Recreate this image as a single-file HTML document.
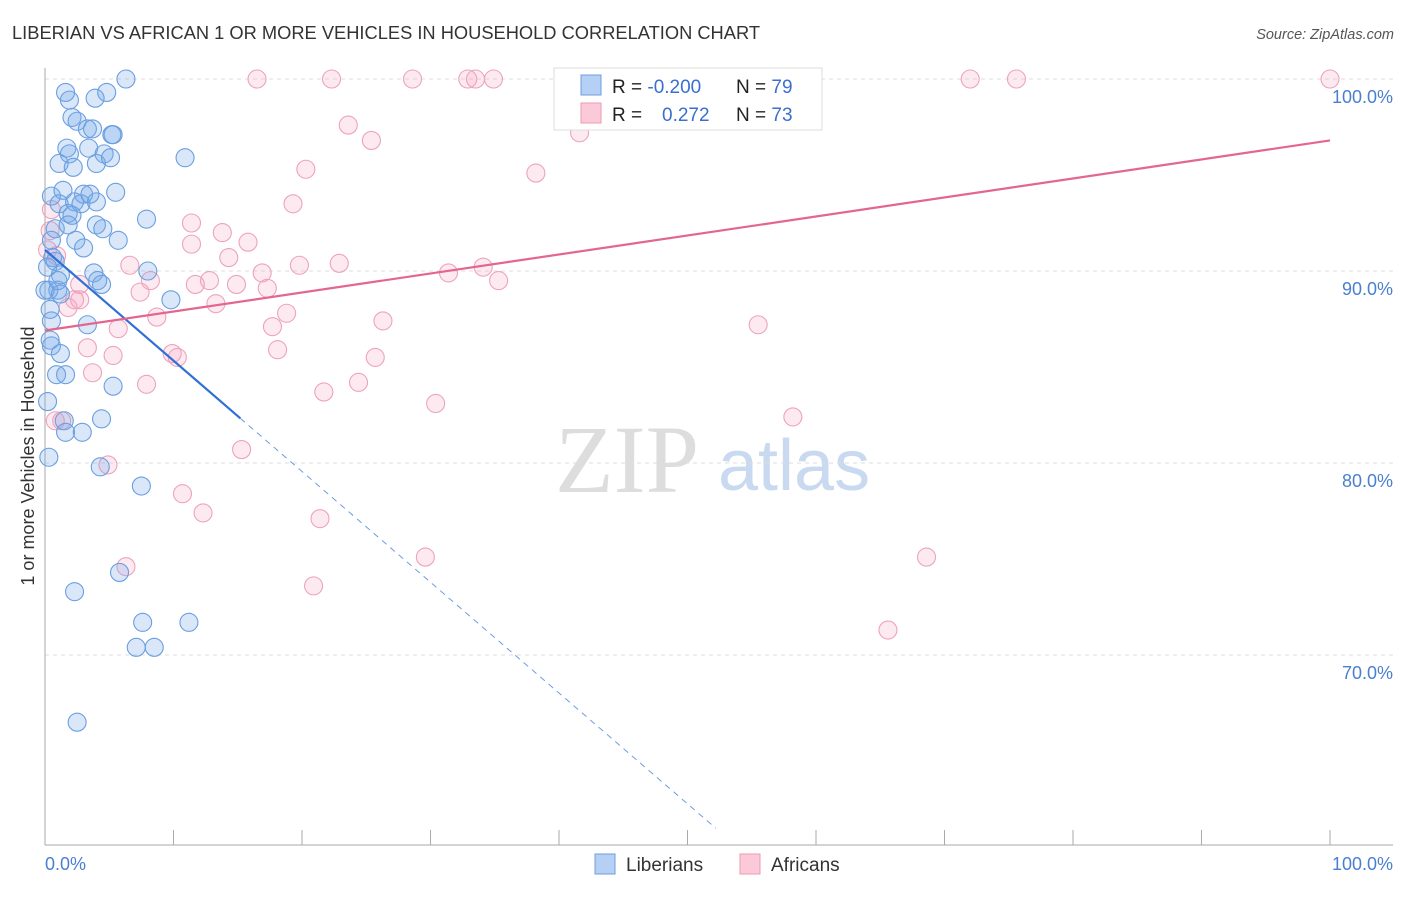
<!DOCTYPE html>
<html><head><meta charset="utf-8"><style>
body{margin:0;background:#fff;font-family:"Liberation Sans",sans-serif}
</style></head><body>
<svg id="c" width="1406" height="892" xmlns="http://www.w3.org/2000/svg" font-family="Liberation Sans, sans-serif">
<text x="12" y="39" font-size="18.3" fill="#333">LIBERIAN VS AFRICAN 1 OR MORE VEHICLES IN HOUSEHOLD CORRELATION CHART</text>
<text x="1394" y="39" font-size="14.5" fill="#555" text-anchor="end" font-style="italic">Source: ZipAtlas.com</text>
<g>
<text x="555" y="492" font-size="96" fill="#ddd" font-family="Liberation Serif, serif">ZIP</text>
<text x="718" y="490" font-size="72" fill="#c8d9f0">atlas</text>
</g>
<g id="grid"></g>
<g id="marks"></g>
<g id="lines"></g>
<text transform="translate(34,456) rotate(-90)" font-size="18" fill="#333" text-anchor="middle">1 or more Vehicles in Household</text>
<g>
<rect x="554" y="68" width="268" height="62" fill="#fff" stroke="#ddd"/>
<rect x="581" y="75" width="20" height="20" fill="#b6d0f5" stroke="#6d9de0"/>
<rect x="581" y="103" width="20" height="20" fill="#fbc9d8" stroke="#eb9ab4"/>
<text x="612" y="93" font-size="19" fill="#222">R = <tspan fill="#3a6fd0">-0.200</tspan></text>
<text x="736" y="93" font-size="19" fill="#222">N = <tspan fill="#3a6fd0">79</tspan></text>
<text x="612" y="121" font-size="19" fill="#222">R = <tspan fill="#3a6fd0" x="662">0.272</tspan></text>
<text x="736" y="121" font-size="19" fill="#222">N = <tspan fill="#3a6fd0">73</tspan></text>
</g>
<g>
<rect x="595" y="854" width="20" height="20" fill="#b6d0f5" stroke="#6d9de0"/>
<text x="626" y="871" font-size="19" fill="#333">Liberians</text>
<rect x="740" y="854" width="20" height="20" fill="#fbc9d8" stroke="#eb9ab4"/>
<text x="771" y="871" font-size="19" fill="#333">Africans</text>
</g>
</svg>
<script>
const xTicks=[0,10,20,30,40,50,60,70,80,90,100];
const yTicks=[70,80,90,100];
const yTickLabels=["70.0%","80.0%","90.0%","100.0%"];
const blueX=[6.3,1.6,4.8,1.9,3.9,2.1,2.5,3.3,3.7,5.2,5.3,1.7,3.4,1.9,4.6,1.1,2.2,4.0,10.9,0.5,1.4,3.0,5.5,1.1,2.3,2.8,4.0,1.8,2.1,7.9,0.8,4.0,4.5,0.5,2.4,3.0,5.7,0.6,0.8,3.8,4.4,4.1,8.0,0.3,1.0,1.2,9.8,0.5,3.3,0.4,0.5,1.2,0.9,1.6,5.3,0.2,1.5,1.6,2.9,4.4,0.3,4.3,7.5,5.8,2.3,7.6,11.2,7.1,8.5,2.5,0.4,0.2,1.2,0,1.0,1.8,3.5,5.1];
const blueY=[100,99.3,99.3,98.9,99.0,98.0,97.8,97.4,97.4,97.1,97.1,96.4,96.4,96.1,96.1,95.6,95.4,95.6,95.9,93.9,94.2,94.0,94.1,93.5,93.6,93.5,93.6,93.0,92.9,92.7,92.2,92.4,92.2,91.6,91.6,91.2,91.6,90.7,90.5,89.9,89.3,89.5,90.0,89.0,89.0,88.8,88.5,87.4,87.2,86.4,86.1,85.7,84.6,84.6,84.0,83.2,82.2,81.6,81.6,82.3,80.3,79.8,78.8,74.3,73.3,71.7,71.7,70.4,70.4,66.5,88.0,90.2,89.8,89.0,89.5,92.4,94.0,95.9];
const pinkX=[16.5,22.3,28.6,32.9,33.5,34.9,52.4,59.1,72.0,75.6,100,41.6,23.6,25.4,38.2,20.3,19.3,11.4,13.8,15.8,11.4,6.6,14.3,16.9,19.8,22.9,31.4,34.1,35.3,8.2,11.7,12.8,14.9,17.3,7.4,13.3,18.8,8.7,17.7,26.3,55.5,1.8,2.7,5.7,3.3,9.9,10.3,5.3,18.1,25.7,3.7,7.9,21.7,24.4,30.4,58.2,1.3,15.3,4.9,10.7,12.3,21.4,6.3,29.6,68.6,20.9,65.6,0.5,0.2,0.8,0.9,2.3,2.7,0.4];
const pinkY=[100,100,100,100,100,100,100,100,100,100,100,97.2,97.6,96.8,95.1,95.3,93.5,92.5,92.0,91.5,91.4,90.3,90.7,89.9,90.3,90.4,89.9,90.2,89.5,89.5,89.3,89.5,89.3,89.1,88.9,88.3,87.8,87.6,87.1,87.4,87.2,88.1,88.5,87.0,86.0,85.7,85.5,85.6,85.9,85.5,84.7,84.1,83.7,84.2,83.1,82.4,82.2,80.7,79.9,78.4,77.4,77.1,74.6,75.1,75.1,73.6,71.3,93.2,91.1,82.2,90.8,88.5,89.3,92.1];
const blueTrend=[91.1,-0.577,15.2,52.2];
const pinkTrend=[86.9,0.099];
const NS="http://www.w3.org/2000/svg";
const X=v=>45+v*12.85, Y=v=>79+(100-v)*19.2;
function mk(t,a,p){const e=document.createElementNS(NS,t);for(const k in a)e.setAttribute(k,a[k]);p.appendChild(e);return e;}
const g=document.getElementById('grid');
yTicks.forEach((t,i)=>{
 const l=mk('line',{x1:45,x2:1393,y1:Y(t),y2:Y(t),stroke:'#ddd','stroke-dasharray':'4,4'},g);
 
 
 const tx=mk('text',{x:1393,y:Y(t)+24,'font-size':18,fill:'#4a7fd0','text-anchor':'end'},g);
 tx.textContent=yTickLabels[i];
 
 
});
const ax=mk('line',{x1:45,x2:45,y1:68,y2:845,stroke:'#aaa'},g);


const bx=mk('line',{x1:45,x2:1393,y1:845,y2:845,stroke:'#aaa'},g);


xTicks.forEach(t=>{
 const l=mk('line',{x1:X(t),x2:X(t),y1:830,y2:845,stroke:'#aaa'},g);
 
 
});
const x0=mk('text',{x:45,y:870,'font-size':18,fill:'#4a7fd0'},g);x0.textContent='0.0%';


const x1=mk('text',{x:1393,y:870,'font-size':18,fill:'#4a7fd0','text-anchor':'end'},g);x1.textContent='100.0%';


const m=document.getElementById('marks');
pinkX.forEach((v,i)=>{
 const c=mk('circle',{cx:X(v),cy:Y(pinkY[i]),r:9,fill:'rgba(245,160,190,0.22)',stroke:'#eda3bb','stroke-width':1.1},m);
 
 
});
blueX.forEach((v,i)=>{
 const c=mk('circle',{cx:X(v),cy:Y(blueY[i]),r:9,fill:'rgba(120,170,235,0.28)',stroke:'#6a9fe0','stroke-width':1.1},m);
 
 
});
const L=document.getElementById('lines');
const bf=x=>blueTrend[0]+blueTrend[1]*x;
const b1=mk('line',{x1:X(0),y1:Y(bf(0)),x2:X(blueTrend[2]),y2:Y(bf(blueTrend[2])),stroke:'#2f6fd6','stroke-width':2.2},L);


const b2=mk('line',{x1:X(blueTrend[2]),y1:Y(bf(blueTrend[2])),x2:X(blueTrend[3]),y2:Y(bf(blueTrend[3])),stroke:'#6d9de0','stroke-width':1,'stroke-dasharray':'6,5'},L);


const pf=x=>pinkTrend[0]+pinkTrend[1]*x;
const p1=mk('line',{x1:X(0),y1:Y(pf(0)),x2:X(100),y2:Y(pf(100)),stroke:'#e3668f','stroke-width':2.2},L);


</script>
</body></html>
